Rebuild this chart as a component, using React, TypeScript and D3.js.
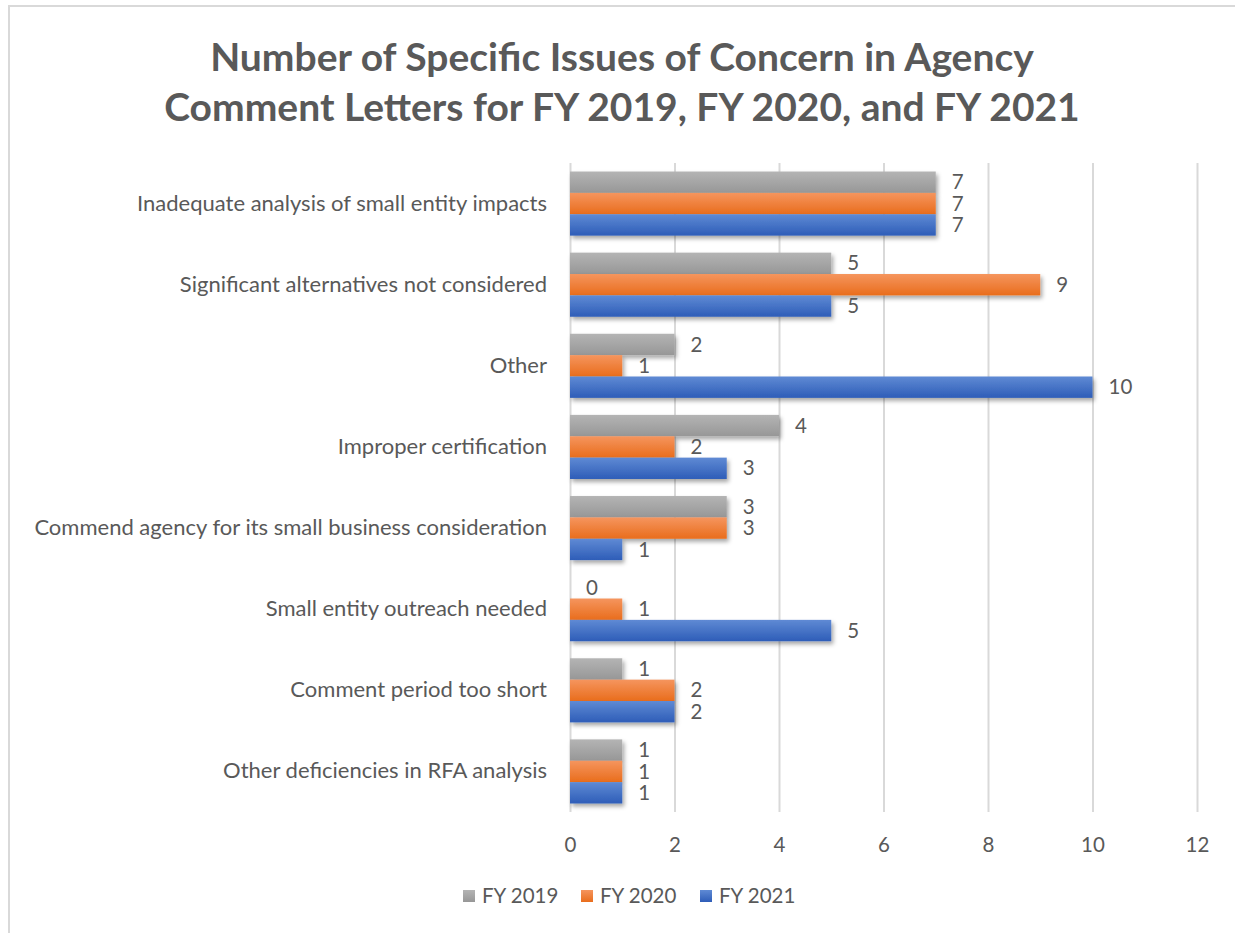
import React, { useEffect, useRef } from 'react'
import * as d3 from 'd3'

const categories = [
  'Inadequate analysis of small entity impacts',
  'Significant alternatives not considered',
  'Other',
  'Improper certification',
  'Commend agency for its small business consideration',
  'Small entity outreach needed',
  'Comment period too short',
  'Other deficiencies in RFA analysis',
]

const seriesNames = ['FY 2019', 'FY 2020', 'FY 2021']
const fy2019 = [7, 5, 2, 4, 3, 0, 1, 1]
const fy2020 = [7, 9, 1, 2, 3, 1, 2, 1]
const fy2021 = [7, 5, 10, 3, 1, 5, 2, 1]
const xTicks = [0, 2, 4, 6, 8, 10, 12]

const titleLines = [
  'Number of Specific Issues of Concern in Agency',
  'Comment Letters for FY 2019, FY 2020, and FY 2021',
]

// top colour, bottom colour of each bar gradient
const gradients = [
  ['#b4b4b4', '#979797'],
  ['#f5955e', '#e96d1c'],
  ['#5f8ad4', '#2e5db8'],
]

const W = 1235
const H = 933
const FONT = 'Lato, "Open Sans", sans-serif'
const TEXT = '#595959'

const App: React.FC = () => {
  const svgRef = useRef<SVGSVGElement>(null)

  useEffect(() => {
    if (!svgRef.current) return
    const svg = d3.select(svgRef.current)
    svg.selectAll('*').remove()

    const values = [fy2019, fy2020, fy2021]
    const plot = { left: 570, right: 1197, top: 163, bottom: 812 }

    const defs = svg.append('defs')
    gradients.forEach((g, i) => {
      const lg = defs.append('linearGradient')
        .attr('id', `grad${i}`)
        .attr('x1', 0).attr('y1', 0).attr('x2', 0).attr('y2', 1)
      lg.append('stop').attr('offset', '0%').attr('stop-color', g[0])
      lg.append('stop').attr('offset', '100%').attr('stop-color', g[1])
    })
    const f = defs.append('filter').attr('id', 'shadow')
      .attr('x', '-10%').attr('y', '-30%').attr('width', '130%').attr('height', '180%')
    f.append('feDropShadow')
      .attr('dx', 2).attr('dy', 3).attr('stdDeviation', 2.2)
      .attr('flood-color', '#000').attr('flood-opacity', 0.35)

    // chart frame
    svg.append('rect')
      .attr('x', 9).attr('y', 6)
      .attr('width', W).attr('height', H)
      .attr('fill', '#fff')
      .attr('stroke', '#d9d9d9').attr('stroke-width', 2)

    // title
    svg.append('g').selectAll('text')
      .data(titleLines)
      .join('text')
      .attr('x', 622)
      .attr('y', (_, i) => 71 + i * 50)
      .attr('text-anchor', 'middle')
      .style('font-family', FONT)
      .style('font-weight', 'bold')
      .style('font-size', '39px')
      .style('fill', TEXT)
      .text(d => d)

    const x = d3.scaleLinear().domain([0, 12]).range([plot.left, plot.right])
    const y = d3.scaleBand().domain(categories).range([plot.top, plot.bottom]).paddingInner(0.21).paddingOuter(0.105)
    const ySub = d3.scaleBand().domain(seriesNames).range([0, y.bandwidth()])

    // grid
    svg.append('g')
      .attr('transform', `translate(0,${plot.bottom})`)
      .call(d3.axisBottom(x).tickValues(xTicks).tickSize(-(plot.bottom - plot.top)).tickFormat(() => ''))
      .call(g => g.select('.domain').remove())
      .selectAll('line')
      .attr('stroke', '#d9d9d9')
      .attr('stroke-width', 2)

    // x tick labels
    svg.append('g')
      .attr('transform', `translate(0,${plot.bottom})`)
      .call(d3.axisBottom(x).tickValues(xTicks).tickSize(0).tickPadding(25))
      .call(g => g.select('.domain').remove())
      .selectAll('text')
      .style('font-family', FONT)
      .style('font-size', '20.5px')
      .style('fill', TEXT)

    // y category labels
    svg.append('g')
      .attr('transform', `translate(${plot.left},0)`)
      .call(d3.axisLeft(y).tickSize(0).tickPadding(23))
      .call(g => g.select('.domain').remove())
      .selectAll('text')
      .style('font-family', FONT)
      .style('font-size', '22px')
      .style('fill', TEXT)

    // bars
    seriesNames.forEach((s, si) => {
      const rows = categories.map((c, ci) => ({ c, v: values[si][ci] }))
      const g = svg.append('g')
      g.selectAll('rect')
        .data(rows.filter(d => d.v > 0))
        .join('rect')
        .attr('x', x(0))
        .attr('y', d => (y(d.c) as number) + (ySub(s) as number))
        .attr('width', d => x(d.v) - x(0))
        .attr('height', ySub.bandwidth())
        .attr('fill', `url(#grad${si})`)
        .attr('filter', 'url(#shadow)')
      g.selectAll('text')
        .data(rows)
        .join('text')
        .attr('x', d => x(d.v) + 16)
        .attr('y', d => (y(d.c) as number) + (ySub(s) as number) + ySub.bandwidth() / 2)
        .attr('dy', '0.35em')
        .style('font-family', FONT)
        .style('font-size', '20.5px')
        .style('fill', TEXT)
        .text(d => d.v)
    })

    // legend
    const legendX = [463, 581, 700]
    const lg = svg.append('g').selectAll('g')
      .data(seriesNames)
      .join('g')
      .attr('transform', (_, i) => `translate(${legendX[i]},896)`)
    lg.append('rect')
      .attr('x', 0).attr('y', -6)
      .attr('width', 12).attr('height', 12)
      .attr('fill', (_, i) => `url(#grad${i})`)
    lg.append('text')
      .attr('x', 19)
      .attr('dy', '0.35em')
      .style('font-family', FONT)
      .style('font-size', '20.5px')
      .style('fill', TEXT)
      .text(d => d)
  }, [])

  return (
    <div style={{ position: 'absolute', left: 0, top: 0 }}>
      <svg ref={svgRef} width={W} height={H} style={{ display: 'block' }}></svg>
    </div>
  )
}

export default App
